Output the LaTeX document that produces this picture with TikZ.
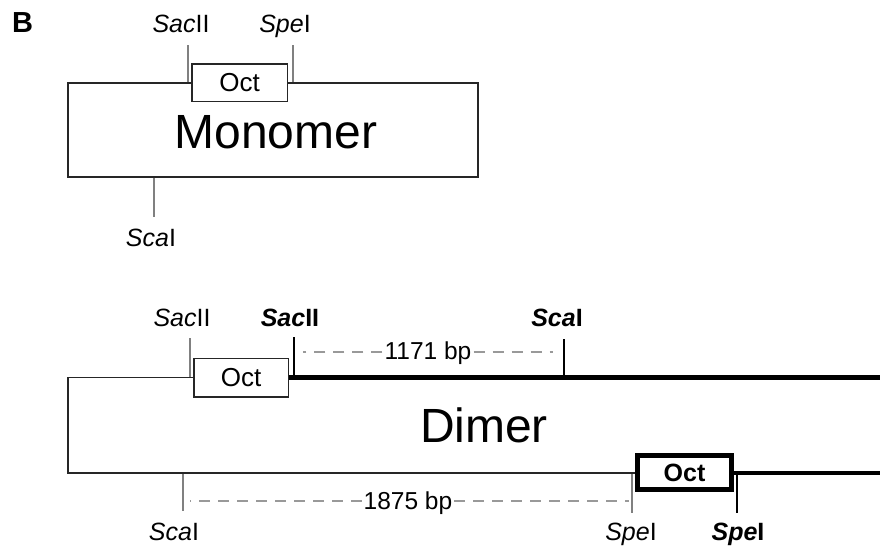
\documentclass[tikz,border=0pt]{standalone}
\usepackage{fontspec}
\setmainfont{Liberation Sans}
\begin{document}
\begin{tikzpicture}[x=1pt,y=-1pt,
  lab/.style={anchor=base, inner sep=0pt, font=\fontsize{25}{29}\selectfont},
  dimlab/.style={anchor=base, inner sep=2pt, font=\fontsize{24.5}{28}\selectfont},
  big/.style={anchor=base, inner sep=0pt, font=\fontsize{48}{56}\selectfont},
  boxline/.style={draw=black!85, line width=1.6pt},
  octbox/.style={draw=black!85, line width=1.5pt, fill=white, inner sep=0pt, font=\fontsize{26}{30}\selectfont},
  boldoct/.style={draw=black, line width=5pt, fill=white, minimum width=94pt, minimum height=34pt, inner sep=0pt, font=\bfseries\fontsize{25}{29}\selectfont},
  ticktone/.style={draw=black!50, line width=1.5pt},
  btick/.style={draw=black, line width=1.5pt},
  thickline/.style={draw=black, line width=4.5pt},
  dimline/.style={draw=black!40, line width=1.5pt, dash pattern=on 11pt off 8pt},
]
\useasboundingbox (0,0) rectangle (880,547);

% panel letter
\node[anchor=base west, inner sep=0pt, font=\bfseries\fontsize{29}{33}\selectfont] (B) at (12,32) {B};

% ---------------- Monomer ----------------
\node[boxline, minimum width=410pt, minimum height=94pt, inner sep=0pt] (mono) at (273,130) {};
\node[big] (monotext) at (276,148) {Monomer};
\node[octbox, minimum width=95.5pt, minimum height=37.5pt] (oct1) at (239.5,82.5) {Oct};

\coordinate (m1a) at (188,45);  \coordinate (m1b) at (188,82);
\coordinate (m2a) at (293,45);  \coordinate (m2b) at (293,82);
\coordinate (m3a) at (154,178); \coordinate (m3b) at (154,217);
\draw[ticktone] (m1a) -- (m1b);
\draw[ticktone] (m2a) -- (m2b);
\draw[ticktone] (m3a) -- (m3b);
\node[lab] (msac) at (181,32) {\textit{Sac}II};
\node[lab] (mspe) at (285,32) {\textit{Spe}I};
\node[lab] (msca) at (151,246) {\textit{Sca}I};

% ---------------- Dimer ----------------
\node[octbox, minimum width=94.5pt, minimum height=38.5pt] (oct2) at (241,377.5) {Oct};
\node[boldoct] (oct3) at (684.5,472.5) {Oct};

\coordinate (dtl) at (67.75,377.5);
\coordinate (dbl) at (67.75,473);
\coordinate (rtop) at (880,377.5);
\coordinate (rbot) at (880,473);

\draw[boxline] (oct2.west) -- (dtl) -- (dbl) -- (oct3.west |- dbl);
\draw[thickline] (oct2.east) -- (rtop);
\draw[thickline] (oct3.east |- rbot) -- (rbot);

\node[big] (dimertext) at (484,442) {Dimer};

% top ticks
\coordinate (t1a) at (190,338); \coordinate (t1b) at (190,377);
\coordinate (t2a) at (294,337); \coordinate (t2b) at (294,377);
\coordinate (t3a) at (564,339); \coordinate (t3b) at (564,377);
\draw[ticktone] (t1a) -- (t1b);
\draw[btick] (t2a) -- (t2b);
\draw[btick] (t3a) -- (t3b);
\node[lab] (dsac) at (182,326) {\textit{Sac}II};
\node[lab] (dsacb) at (290,326) {\bfseries\textit{Sac}II};
\node[lab] (dscab) at (557,326) {\bfseries\textit{Sca}I};

% bottom ticks
\coordinate (b1a) at (183,474); \coordinate (b1b) at (183,511);
\coordinate (b2a) at (632,474); \coordinate (b2b) at (632,513);
\coordinate (b3a) at (737,474); \coordinate (b3b) at (737,513);
\draw[ticktone] (b1a) -- (b1b);
\draw[ticktone] (b2a) -- (b2b);
\draw[btick] (b3a) -- (b3b);
\node[lab] (dsca) at (174,540) {\textit{Sca}I};
\node[lab] (dspe) at (631,540) {\textit{Spe}I};
\node[lab] (dspeb) at (738,540) {\bfseries\textit{Spe}I};

% distances
\coordinate (d1a) at (303,352); \coordinate (d1b) at (553,352);
\node[dimlab] (l1171) at (428,359) {1171 bp};
\draw[dimline] (d1a -| l1171.west) -- (d1a);
\draw[dimline] (d1b -| l1171.east) -- (d1b);

\coordinate (d2a) at (190,501); \coordinate (d2b) at (629,501);
\node[dimlab] (l1875) at (408,509) {1875 bp};
\draw[dimline] (d2a -| l1875.west) -- (d2a);
\draw[dimline] (d2b -| l1875.east) -- (d2b);
\end{tikzpicture}
\end{document}
